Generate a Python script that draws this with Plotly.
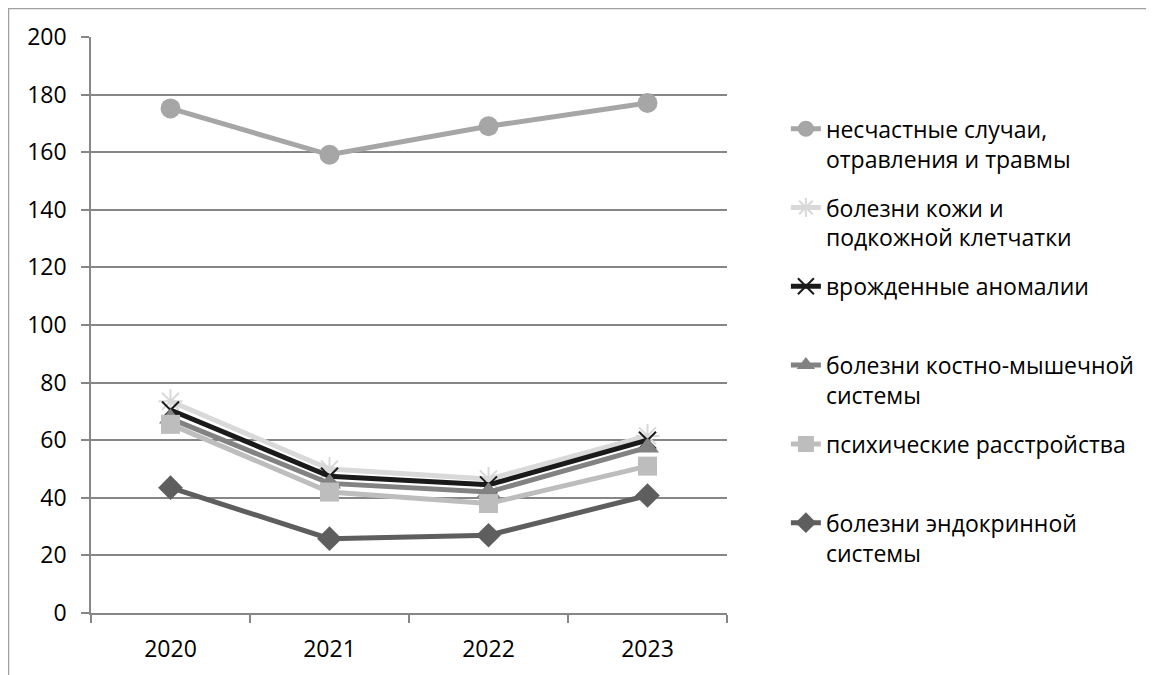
import plotly.graph_objects as go

years = ["2020", "2021", "2022", "2023"]

names = [
    "несчастные случаи,<br>отравления и травмы",
    "болезни кожи и<br>подкожной клетчатки",
    "врожденные аномалии<br> ",
    "болезни костно-мышечной<br>системы",
    "психические расстройства<br> ",
    "болезни эндокринной<br>системы",
]

accidents = [175.2, 159.1, 169.0, 177.1]
skin = [73.5, 50.0, 46.5, 61.5]
congenital = [70.5, 47.5, 44.5, 60.0]
musculo = [67.5, 45.0, 42.0, 57.5]
psychic = [65.5, 42.0, 38.0, 51.0]
endocrine = [43.5, 25.8, 27.0, 40.8]

series = [accidents, skin, congenital, musculo, psychic, endocrine]
colors = ["#A6A6A6", "#D9D9D9", "#1A1A1A", "#828282", "#BDBDBD", "#5E5E5E"]
symbols = ["circle", "asterisk-open", "x-thin-open", "triangle-up", "square", "diamond"]
sizes = [20, 20, 17, 20, 19, 19]

fig = go.Figure()
for i, (nm, vals) in enumerate(zip(names, series)):
    open_sym = symbols[i].endswith("open")
    fig.add_trace(go.Scatter(
        x=years, y=vals, name=nm, mode="lines+markers",
        legendgroup=f"g{i}",
        line=dict(color=colors[i], width=5),
        marker=dict(symbol=symbols[i], size=sizes[i], color=colors[i],
                    line=dict(color=colors[i], width=2 if open_sym else 0)),
    ))

font_family = "Open Sans"
fig.update_layout(
    width=1154, height=675,
    margin=dict(l=83, r=435, t=29, b=70),
    paper_bgcolor="white", plot_bgcolor="white",
    font=dict(family=font_family, size=23, color="#000000"),
    showlegend=True,
    legend=dict(
        x=1.0926, y=0.878, xanchor="left", yanchor="top",
        font=dict(family=font_family, size=23, color="#000000"),
        valign="top", tracegroupgap=16, bgcolor="rgba(0,0,0,0)",
    ),
    xaxis=dict(
        type="category", range=[-0.5, 3.5],
        showgrid=False, showline=True, linecolor="#868686", linewidth=1.5,
        ticks="outside", tickson="boundaries", ticklen=8, tickcolor="#868686",
        tickwidth=1.5, tickfont=dict(size=23), ticklabelstandoff=15, fixedrange=True,
    ),
    yaxis=dict(
        range=[0, 200], dtick=20, showgrid=True, gridcolor="#868686", gridwidth=1.5,
        showline=True, linecolor="#868686", linewidth=1.5, zeroline=False,
        ticks="outside", ticklen=8, tickcolor="#868686", tickwidth=1.5,
        tickfont=dict(size=23), ticklabelstandoff=10, fixedrange=True,
    ),
    shapes=[dict(type="rect", xref="paper", yref="paper",
                 x0=-82.5 / 636, x1=3.0, y0=-1.0, y1=1 + 28.5 / 576,
                 line=dict(color="#A0A0A0", width=1.5), layer="below")],
)

fig.write_html("out.html")
